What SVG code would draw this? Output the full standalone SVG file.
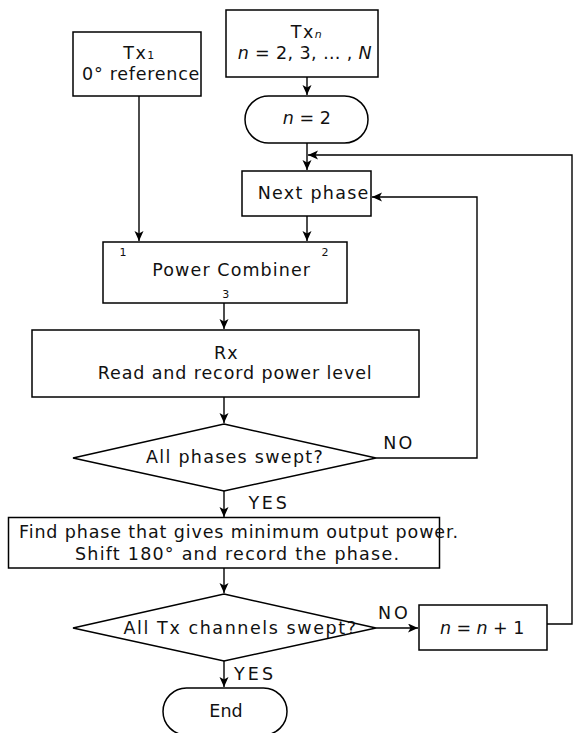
<svg xmlns="http://www.w3.org/2000/svg" width="573" height="733" viewBox="0 0 573 733">
<defs>
<style>
.box{fill:#fff;stroke:#000;stroke-width:1.5}
.ln{fill:none;stroke:#000;stroke-width:1.4}
text{font-family:"DejaVu Sans","Liberation Sans",sans-serif;font-size:17.5px;fill:#111}
.sm{font-size:11px}
.it{font-style:italic}
</style>
<marker id="ah" markerUnits="userSpaceOnUse" markerWidth="12" markerHeight="10" refX="10" refY="4.5" orient="auto">
<path d="M0,0 L10,4.5 L0,9 L2.5,4.5 z" fill="#000"/>
</marker>
</defs>
<rect width="573" height="733" fill="#fff"/>
<g id="connectors">
<path class="ln" d="M307,77 V95" marker-end="url(#ah)"/>
<path class="ln" d="M307,143 V170" marker-end="url(#ah)"/>
<path class="ln" d="M547,624 H572 V155 H308" marker-end="url(#ah)"/>
<path class="ln" d="M139,96 V241" marker-end="url(#ah)"/>
<path class="ln" d="M307,216 V241" marker-end="url(#ah)"/>
<path class="ln" d="M224,303 V329" marker-end="url(#ah)"/>
<path class="ln" d="M224,397 V423" marker-end="url(#ah)"/>
<path class="ln" d="M376,458 H477 V197 H372" marker-end="url(#ah)"/>
<path class="ln" d="M224,491 V517" marker-end="url(#ah)"/>
<path class="ln" d="M224,568 V593" marker-end="url(#ah)"/>
<path class="ln" d="M376,628 H418" marker-end="url(#ah)"/>
<path class="ln" d="M224,661 V687" marker-end="url(#ah)"/>
<text x="383.3" y="449" textLength="29" lengthAdjust="spacing">NO</text>
<text x="248.4" y="509" textLength="38.4" lengthAdjust="spacing">YES</text>
<text x="378" y="619" textLength="29.7" lengthAdjust="spacing">NO</text>
<text x="234" y="680" textLength="39" lengthAdjust="spacing">YES</text>
</g>
<g id="tx1">
<rect class="box" x="73" y="32" width="128" height="64"/>
<text x="123.3" y="59.3">T<tspan dx="1.5">x</tspan><tspan dx="1.5" class="sm">1</tspan></text>
<text x="82" y="80" textLength="117.3" lengthAdjust="spacing">0° reference</text>
</g>
<g id="txn">
<rect class="box" x="226" y="10" width="152" height="67"/>
<text x="290.7" y="37.7">T<tspan dx="1.5">x</tspan><tspan dx="1.5" class="sm it">n</tspan></text>
<text x="237.7" y="59.3" textLength="134" lengthAdjust="spacing"><tspan class="it">n</tspan> = 2, 3, … , <tspan class="it">N</tspan></text>
</g>
<g id="n2">
<rect class="box" x="245" y="96" width="123" height="47" rx="23.5"/>
<text x="282.7" y="124.3" textLength="48.3" lengthAdjust="spacing"><tspan class="it">n</tspan> = 2</text>
</g>
<g id="nextphase">
<rect class="box" x="242" y="171" width="129" height="45"/>
<text x="257.7" y="199.3" textLength="110.6" lengthAdjust="spacing">Next phase</text>
</g>
<g id="combiner">
<rect class="box" x="103" y="242" width="244" height="61"/>
<text x="152.3" y="275.7" textLength="157.7" lengthAdjust="spacing">Power Combiner</text>
<text class="sm" x="123" y="256.3" text-anchor="middle">1</text>
<text class="sm" x="325" y="256.3" text-anchor="middle">2</text>
<text class="sm" x="225.7" y="297.7" text-anchor="middle">3</text>
</g>
<g id="rx">
<rect class="box" x="32" y="330" width="387" height="67"/>
<text x="214" y="359" textLength="23.7" lengthAdjust="spacing">Rx</text>
<text x="97.7" y="379.3" textLength="274" lengthAdjust="spacing">Read and record power level</text>
</g>
<g id="phases">
<polygon class="box" points="224,424 376,458 224,491 73,458"/>
<text x="146" y="463.3" textLength="176.7" lengthAdjust="spacing">All phases swept?</text>
</g>
<g id="findphase">
<rect class="box" x="8.5" y="517.5" width="431" height="50.5"/>
<text x="19" y="538.3" textLength="439" lengthAdjust="spacing">Find phase that gives minimum output power.</text>
<text x="75" y="560" textLength="324" lengthAdjust="spacing">Shift 180°  and record the phase.</text>
</g>
<g id="channels">
<polygon class="box" points="224,594 376,628 224,661 73,628"/>
<text x="123.5" y="634.3" textLength="232.5" lengthAdjust="spacing">All Tx channels swept?</text>
</g>
<g id="increment">
<rect class="box" x="419" y="605" width="128" height="45"/>
<text x="440" y="634.3" textLength="84.3" lengthAdjust="spacing"><tspan class="it">n</tspan> = <tspan class="it">n</tspan> + 1</text>
</g>
<g id="end">
<rect class="box" x="163" y="688" width="124" height="47" rx="23.5"/>
<text x="209.3" y="717.3" textLength="33.4" lengthAdjust="spacing">End</text>
</g>
</svg>
